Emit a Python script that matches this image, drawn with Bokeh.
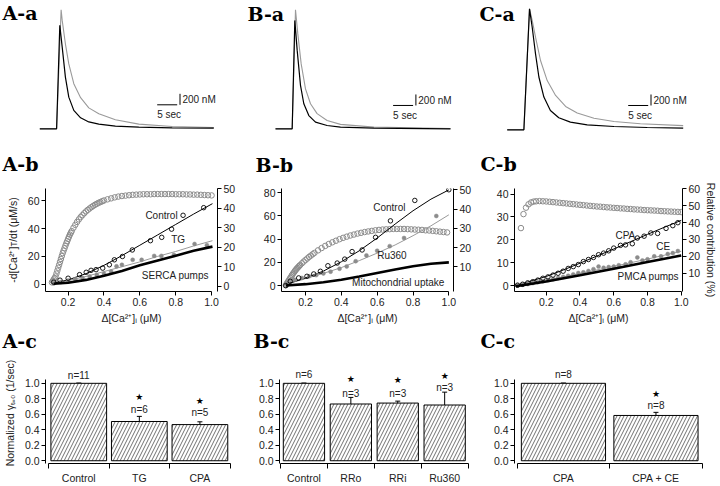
from bokeh.plotting import figure
from bokeh.layouts import column, row
from bokeh.models import (Range1d, LinearAxis, FixedTicker, Whisker, TeeHead,
                          ColumnDataSource, PrintfTickFormatter)
from bokeh.embed import file_html
from bokeh.resources import INLINE
from bokeh.core.properties import value

# ---------------- DATA ----------------
# Row a: [Ca2+]i transients, time (s) and concentration (nM)
aa_t_k = [0, 4.2, 5.0, 5.6, 6.4, 7.25, 8.5, 10.2, 12.25, 14.75, 18.9, 24.75, 33.1, 43.5]
aa_y_k = [0, 0, 1880, 1485, 940, 575, 335, 200, 125, 85, 50, 30, 18, 12]
aa_t_g = [0, 4.2, 5.33, 5.6, 6.4, 7.25, 8.5, 10.2, 12.25, 14.75, 18.9, 24.75, 33.1, 43.5]
aa_y_g = [0, 0, 2165, 1970, 1545, 1180, 820, 565, 380, 275, 165, 85, 42, 24]

ba_t_k = [0, 4.17, 4.83, 5.42, 6.25, 7.08, 8.33, 10.0, 12.9, 16.25, 24.6, 43.75]
ba_y_k = [0, 0, 1970, 1425, 790, 455, 240, 120, 60, 30, 12, 0]
ba_t_g = [0, 4.17, 5.0, 5.58, 6.42, 7.5, 8.75, 10.4, 12.9, 16.25, 24.6, 43.75]
ba_y_g = [0, 0, 2165, 1725, 1180, 725, 455, 275, 150, 80, 30, 6]

ca_t_k = [0, 4.17, 5.58, 6.25, 7.08, 7.92, 9.17, 10.8, 12.9, 15.8, 20.0, 26.7, 35.0, 44.0]
ca_y_k = [0, 0, 2200, 1865, 1380, 960, 595, 350, 220, 140, 90, 60, 42, 30]
ca_t_g = [0, 4.17, 5.58, 6.25, 7.08, 8.33, 10.0, 12.1, 14.6, 17.5, 21.7, 26.7, 33.3, 44.0]
ca_y_g = [0, 0, 2200, 1990, 1685, 1260, 895, 625, 425, 305, 210, 150, 110, 75]

SB_T = 5      # sec
SB_Y = 200    # nM

# Row b, panel A
ab_ctrl_x = [0.12, 0.155, 0.20, 0.264, 0.301, 0.328, 0.356, 0.393, 0.430, 0.458, 0.503, 0.558, 0.659, 0.722, 0.777, 0.841, 0.956]
ab_ctrl_y = [1.4, 2.8, 4.2, 6.8, 8.5, 9.9, 10.4, 11.5, 13.9, 17.5, 19.9, 24.6, 31.3, 33.7, 39.6, 49.6, 55.1]
ab_tg_x = [0.12, 0.16, 0.20, 0.24, 0.28, 0.32, 0.36, 0.40, 0.44, 0.47, 0.50, 0.56, 0.61, 0.68, 0.72, 0.79, 0.905, 0.974]
ab_tg_y = [0.5, 1.5, 2.5, 3.5, 4.5, 5.5, 6.5, 7.5, 9.0, 12.8, 13.9, 17.5, 17.5, 20.3, 20.3, 21.0, 28.9, 28.0]
ab_fit_x = [0.12, 0.2, 0.3, 0.4, 0.5, 0.6, 0.7, 0.8, 0.9, 1.005]
ab_ctrl_fit = [0.8, 3, 7.5, 13.5, 20.5, 28, 35.5, 43, 50.5, 58]
ab_tg_fit = [0.5, 2.5, 5.5, 9, 12.5, 16, 20, 23.5, 27.5, 31.3]
ab_serca = [0.2, 1.0, 3.0, 6.0, 9.5, 13.5, 17.0, 20.5, 24.0, 27.0]
ab_rel_x = [0.11, 0.115, 0.12, 0.125, 0.13, 0.135, 0.14, 0.145, 0.15, 0.155, 0.16, 0.165, 0.17, 0.175,
            0.18, 0.185, 0.19, 0.195, 0.20, 0.205, 0.21, 0.215, 0.22, 0.23, 0.24, 0.25, 0.26, 0.27,
            0.28, 0.29, 0.30, 0.31, 0.32, 0.33, 0.34, 0.35, 0.36, 0.37, 0.38, 0.39, 0.40,
            0.42, 0.44, 0.46, 0.48, 0.50, 0.52, 0.54, 0.56, 0.58, 0.60, 0.62, 0.64, 0.66, 0.68, 0.70,
            0.72, 0.74, 0.76, 0.78, 0.80, 0.82, 0.84, 0.86, 0.88, 0.90, 0.92, 0.94, 0.96, 0.98, 1.00]
ab_rel_y = [2.0, 2.7, 3.5, 4.2, 5.0, 6.5, 8.0, 9.5, 11.0, 12.5, 14.0, 15.5, 17.0, 18.3,
            19.5, 20.8, 22.0, 23.1, 24.3, 25.4, 26.5, 27.4, 28.3, 30.0, 31.5, 33.0, 34.3, 35.5,
            36.5, 37.5, 38.4, 39.2, 39.9, 40.6, 41.2, 41.8, 42.3, 42.8, 43.2, 43.6, 44.0,
            44.6, 45.1, 45.6, 46.0, 46.3, 46.5, 46.7, 46.9, 47.0, 47.1, 47.2, 47.2, 47.2, 47.3, 47.3,
            47.3, 47.3, 47.3, 47.3, 47.2, 47.2, 47.2, 47.1, 47.1, 47.0, 47.0, 46.9, 46.8, 46.7, 46.6]

# Row b, panel B
bb_ctrl_x = [0.09, 0.115, 0.162, 0.208, 0.246, 0.283, 0.325, 0.377, 0.419, 0.46, 0.516, 0.591, 0.674, 0.81, 1.0]
bb_ctrl_y = [0, 3.7, 6.6, 8.0, 10.0, 12.3, 17.1, 19.4, 22.8, 29.3, 30.7, 41.6, 55.8, 73.4, 82.6]
bb_ru_x = [0.10, 0.14, 0.18, 0.22, 0.26, 0.30, 0.34, 0.39, 0.43, 0.48, 0.54, 0.60, 0.67, 0.75, 0.93]
bb_ru_y = [2, 5, 6.5, 8, 9, 10.5, 12, 14.5, 16.5, 21, 26, 30, 34, 41, 60]
bb_ctrl_fit_x = [0.09, 0.15, 0.2, 0.3, 0.4, 0.5, 0.6, 0.7, 0.8, 0.9, 1.0]
bb_ctrl_fit_y = [1, 4, 6.5, 12.5, 20.5, 30, 41, 53, 64.5, 74.5, 82.5]
bb_fit_x = [0.09, 0.2, 0.3, 0.4, 0.5, 0.6, 0.7, 0.8, 0.9, 1.0]
bb_ru_fit = [1, 6, 10.5, 15.5, 21.5, 28, 35, 43, 51.5, 61]
bb_mito = [0, 1.2, 2.8, 5, 7.8, 10.8, 13.8, 16.6, 18.8, 20]
bb_rel_x = [0.09, 0.095, 0.10, 0.105, 0.11, 0.115, 0.12, 0.125, 0.13, 0.135, 0.14, 0.145, 0.15, 0.155,
            0.16, 0.165, 0.17, 0.18, 0.19, 0.20, 0.21, 0.22, 0.23, 0.24, 0.25,
            0.27, 0.29, 0.31, 0.33, 0.35, 0.37, 0.39, 0.41, 0.43, 0.45, 0.47, 0.49, 0.51, 0.53, 0.55,
            0.57, 0.59, 0.61, 0.63, 0.65, 0.67, 0.69, 0.71, 0.73, 0.75, 0.77, 0.79, 0.81, 0.83, 0.85,
            0.87, 0.89, 0.91, 0.93, 0.95, 0.97, 0.99]
bb_rel_y = [0.5, 1.3, 2.0, 2.8, 3.5, 4.3, 5.0, 5.8, 6.5, 7.1, 7.8, 8.4, 9.0, 9.5,
            10.0, 10.5, 11.0, 11.9, 12.8, 13.6, 14.4, 15.2, 15.9, 16.6, 17.3,
            18.6, 19.8, 20.9, 21.9, 22.8, 23.6, 24.4, 25.1, 25.7, 26.3, 26.8, 27.3, 27.7, 28.1, 28.4,
            28.7, 29.0, 29.2, 29.4, 29.5, 29.6, 29.7, 29.7, 29.7, 29.7, 29.6, 29.5, 29.4, 29.3, 29.2,
            29.0, 28.9, 28.7, 28.5, 28.3, 28.1, 27.9]

# Row b, panel C
cb_cpa_x = [0.03, 0.06, 0.09, 0.12, 0.15, 0.18, 0.21, 0.24, 0.27, 0.30, 0.33, 0.36, 0.39, 0.42, 0.45,
            0.48, 0.51, 0.54, 0.57, 0.60, 0.64, 0.67, 0.71, 0.74, 0.78, 0.82, 0.86, 0.91, 0.95, 0.98]
cb_cpa_y = [0.2, 0.6, 1.2, 1.7, 2.4, 3.2, 3.8, 4.6, 5.4, 6.3, 7.5, 8.3, 9.2, 10.5, 11.4,
            12.3, 13.5, 14.2, 15.2, 16.4, 17.6, 17.8, 18.3, 20.8, 21.6, 23.0, 22.8, 25.0, 26.2, 27.5]
cb_ce_x = [0.03, 0.06, 0.09, 0.12, 0.15, 0.18, 0.21, 0.24, 0.27, 0.30, 0.33, 0.36, 0.39, 0.42, 0.45,
           0.48, 0.51, 0.54, 0.57, 0.60, 0.63, 0.67, 0.70, 0.74, 0.77, 0.80, 0.84, 0.88, 0.92, 0.95, 0.98]
cb_ce_y = [0.1, 0.4, 0.7, 1.1, 1.5, 1.9, 2.4, 2.8, 3.3, 3.8, 4.3, 4.9, 5.5, 5.8, 6.4,
           7.2, 8.3, 7.8, 8.1, 8.3, 8.9, 9.3, 10.2, 12.3, 11.0, 11.5, 12.8, 12.8, 13.8, 14.2, 15.1]
cb_cpa_fit_x = [0.02, 0.1, 0.2, 0.3, 0.4, 0.5, 0.6, 0.7, 0.8, 0.9, 1.0]
cb_cpa_fit_y = [0, 1.8, 4, 6.8, 9.8, 12.9, 16, 19.2, 22.4, 25.5, 28.5]
cb_fit_x = [0.02, 0.2, 0.4, 0.6, 0.8, 1.0]
cb_ce_fit = [0, 2.3, 5.3, 8.4, 11.6, 15.0]
cb_pmca = [-0.3, 1.8, 4.5, 7.4, 10.3, 13.2]
cb_rel_x = [0.05, 0.065, 0.08, 0.095, 0.11, 0.125, 0.14, 0.16, 0.18, 0.20, 0.22, 0.24, 0.26, 0.28, 0.30,
            0.32, 0.34, 0.36, 0.38, 0.40, 0.42, 0.44, 0.46, 0.48, 0.50, 0.52, 0.54, 0.56, 0.58, 0.60,
            0.62, 0.64, 0.66, 0.68, 0.70, 0.72, 0.74, 0.76, 0.78, 0.80, 0.82, 0.84, 0.86, 0.88, 0.90,
            0.92, 0.94, 0.96, 0.98, 1.00]
cb_rel_y = [36.7, 45, 48.8, 50.8, 51.9, 52.4, 52.6, 52.7, 52.6, 52.5, 52.3, 52.1, 51.9, 51.7, 51.5,
            51.3, 51.1, 50.9, 50.7, 50.5, 50.3, 50.1, 49.9, 49.7, 49.5, 49.4, 49.2, 49.0, 48.9, 48.7,
            48.6, 48.4, 48.3, 48.1, 48.0, 47.8, 47.7, 47.6, 47.4, 47.3, 47.2, 47.1, 47.0, 46.8, 46.7,
            46.6, 46.5, 46.4, 46.3, 46.2]

# Row c: normalized rate constants
ac_cats = ["Control", "TG", "CPA"]
ac_vals = [1.0, 0.507, 0.467]
ac_errs = [0.004, 0.066, 0.036]
ac_n = ["n=11", "n=6", "n=5"]
ac_sig = [False, True, True]

bc_cats = ["Control", "RRo", "RRi", "Ru360"]
bc_vals = [1.0, 0.733, 0.745, 0.72]
bc_errs = [0.004, 0.085, 0.025, 0.166]
bc_n = ["n=6", "n=3", "n=3", "n=3"]
bc_sig = [False, True, True, True]

cc_cats = ["CPA", "CPA + CE"]
cc_vals = [1.0, 0.585]
cc_errs = [0.004, 0.04]
cc_n = ["n=8", "n=8"]
cc_sig = [False, True]

# ---------------- STYLE ----------------
SANS = "Liberation Sans"
SERIF = "DejaVu Serif"
TXT = "#222222"
GRAY = "#8c8c8c"
LGRAY = "#9a9a9a"
W = [238, 240, 242]          # column widths


def base_fig(w, h, xr, yr, ml, mr, mt, mb, axes=True):
    kw = dict(width=w, height=h, x_range=Range1d(*xr), y_range=Range1d(*yr),
              output_backend="svg", toolbar_location=None, tools="",
              min_border_left=ml, min_border_right=mr, min_border_top=mt, min_border_bottom=mb)
    if not axes:
        kw.update(x_axis_location=None, y_axis_location=None)
    p = figure(**kw)
    p.outline_line_color = None
    p.xgrid.visible = False
    p.ygrid.visible = False
    p.background_fill_color = "white"
    p.border_fill_color = "white"
    return p


def style_axis(ax, size="10.5px"):
    ax.axis_line_color = "black"
    ax.axis_line_width = 1
    ax.major_tick_line_color = "black"
    ax.major_tick_in = 0
    ax.major_tick_out = 4
    ax.minor_tick_line_color = None
    ax.major_label_text_font = SANS
    ax.major_label_text_font_size = size
    ax.major_label_text_color = TXT
    ax.major_label_standoff = 2
    ax.axis_label_text_font = SANS
    ax.axis_label_text_font_size = "10.5px"
    ax.axis_label_text_font_style = "normal"
    ax.axis_label_text_color = TXT
    ax.axis_label_standoff = 3


def panel_label(p, w, h, xr, yr, text, px, py_mid):
    """Panel letter placed at pixel (px, py_mid) of a frame-only figure (from its top-left)."""
    x = xr[0] + px * (xr[1] - xr[0]) / w
    y = yr[1] - py_mid * (yr[1] - yr[0]) / h
    p.text(x=[x], y=[y], text=[text], text_font=value(SERIF), text_font_size="19px",
           text_font_style="bold", text_color="black", text_align="left", text_baseline="middle")


def note(p, x, y, t, size="10px", align="left"):
    p.text(x=[x], y=[y], text=[t], text_font=value(SANS), text_font_size=size,
           text_color=TXT, text_align=align, text_baseline="middle")


# ---------------- ROW a (also carries the row-b panel letters) ----------------
A_H = 175


def trace_panel(w, xr, yr, tg, yg, tk, yk, sb_t, sb_y, lab, lab2, lab_x, lab_mid, lab2_x, lab2_mid):
    p = base_fig(w, A_H, xr, yr, 0, 0, 0, 0, axes=False)
    p.line(tg, yg, line_color=LGRAY, line_width=1.1)
    p.line(tk, yk, line_color="black", line_width=1.2)
    vx = sb_t + SB_T + 0.7
    p.line([sb_t, sb_t + SB_T], [sb_y, sb_y], line_color="black", line_width=1)
    p.line([vx, vx], [sb_y, sb_y + SB_Y], line_color="black", line_width=1)
    note(p, vx + 0.6, sb_y + SB_Y * 0.45, f"{SB_Y} nM")
    note(p, sb_t, sb_y - 180, f"{SB_T} sec")
    panel_label(p, w, A_H, xr, yr, lab, lab_x, lab_mid)
    panel_label(p, w, A_H, xr, yr, lab2, lab2_x, lab2_mid)
    return p


pa1 = trace_panel(W[0], (-9.825, 49.675), (-849, 2332), aa_t_g, aa_y_g, aa_t_k, aa_y_k,
                  29.35, 436, "A-a", "A-b", 2, 12.5, 2, 163.5)
pa2 = trace_panel(W[1], (-9.25, 50.75), (-849, 2332), ba_t_g, ba_y_g, ba_t_k, ba_y_k,
                  29.4, 424, "B-a", "B-b", 9, 13.5, 17, 164)
pa3 = trace_panel(W[2], (-7.175, 53.325), (-831, 2351), ca_t_g, ca_y_g, ca_t_k, ca_y_k,
                  30.25, 442, "C-a", "C-b", 1, 13.5, 2, 163.5)

# ---------------- ROW b ----------------
XLAB = "Δ[Ca²⁺]ᵢ (μM)"
B_H = 151


def rate_fig(w, xr, yr, rr, ml, mr, mt, lticks, rticks, ylabel=None, rlabel=None):
    p = base_fig(w, B_H, xr, yr, ml, mr, mt, 34)
    p.extra_y_ranges = {"r": Range1d(*rr)}
    xa = p.xaxis[0]
    style_axis(xa)
    xa.ticker = FixedTicker(ticks=[0.2, 0.4, 0.6, 0.8, 1.0])
    xa.formatter = PrintfTickFormatter(format="%.1f")
    xa.axis_label = XLAB
    xa.bounds = (xr[0], 1.0)
    ya = p.yaxis[0]
    style_axis(ya)
    ya.ticker = FixedTicker(ticks=lticks)
    if ylabel:
        ya.axis_label = ylabel
    ra = LinearAxis(y_range_name="r", ticker=FixedTicker(ticks=rticks))
    style_axis(ra)
    if rlabel:
        ra.axis_label = rlabel
        ra.axis_label_standoff = 2
    p.add_layout(ra, "right")
    return p


def rel_circles(p, x, y):
    p.scatter(x, y, y_range_name="r", marker="circle", size=5.5, fill_color=None,
              line_color=GRAY, line_width=1)


def open_pts(p, x, y):
    p.scatter(x, y, marker="circle", size=4.5, fill_color=None, line_color="black", line_width=0.9)


def gray_pts(p, x, y):
    p.scatter(x, y, marker="circle", size=4, fill_color=GRAY, line_color=GRAY, line_width=0.5)


pb1 = rate_fig(W[0], (0.074, 1.033), (-5.36, 68.93), (-2.69, 50.15), 45, 18, 13,
               [0, 20, 40, 60], [0, 10, 20, 30, 40, 50], ylabel="-d[Ca²⁺]ᴛ/dt (μM/s)")
pb1.yaxis[0].axis_label_standoff = 6
rel_circles(pb1, ab_rel_x, ab_rel_y)
pb1.line(ab_fit_x, ab_tg_fit, line_color=LGRAY, line_width=1)
pb1.line(ab_fit_x, ab_ctrl_fit, line_color="black", line_width=1)
gray_pts(pb1, ab_tg_x, ab_tg_y)
open_pts(pb1, ab_ctrl_x, ab_ctrl_y)
pb1.line(ab_fit_x, ab_serca, line_color="black", line_width=2.6)
note(pb1, 0.631, 49.6, "Control")
note(pb1, 0.775, 31.8, "TG")
note(pb1, 0.611, 6.1, "SERCA pumps")

pb2 = rate_fig(W[1], (0.0661, 1.0259), (-5.12, 83.69), (-2.72, 50.67), 43, 25, 13,
               [0, 20, 40, 60, 80], [10, 20, 30, 40, 50])
rel_circles(pb2, bb_rel_x, bb_rel_y)
pb2.line(bb_fit_x, bb_ru_fit, line_color=LGRAY, line_width=1)
pb2.line(bb_ctrl_fit_x, bb_ctrl_fit_y, line_color="black", line_width=1)
gray_pts(pb2, bb_ru_x, bb_ru_y)
open_pts(pb2, bb_ctrl_x, bb_ctrl_y)
pb2.line(bb_fit_x, bb_mito, line_color="black", line_width=2.6)
note(pb2, 0.578, 67.7, "Control")
note(pb2, 0.60, 25.6, "Ru360")
note(pb2, 0.46, 2.3, "Mitochondrial uptake")

pb3 = rate_fig(W[2], (0.0118, 1.0075), (-2.57, 42.43), (-0.87, 60.17), 36, 33, 12,
               [0, 10, 20, 30, 40], [10, 20, 30, 40, 50, 60], rlabel="Relative contribution (%)")
rel_circles(pb3, cb_rel_x, cb_rel_y)
pb3.line(cb_fit_x, cb_ce_fit, line_color=LGRAY, line_width=1)
pb3.line(cb_cpa_fit_x, cb_cpa_fit_y, line_color="black", line_width=1)
gray_pts(pb3, cb_ce_x, cb_ce_y)
open_pts(pb3, cb_cpa_x, cb_cpa_y)
pb3.line(cb_fit_x, cb_pmca, line_color="black", line_width=2.6)
note(pb3, 0.61, 21.9, "CPA")
note(pb3, 0.852, 17.1, "CE")
note(pb3, 0.622, 4.0, "PMCA pumps")

# ---------------- strip with row-c panel letters ----------------
S_H = 26


def strip(w, lab, lab_x):
    p = base_fig(w, S_H, (0, 1), (0, 1), 0, 0, 0, 0, axes=False)
    panel_label(p, w, S_H, (0, 1), (0, 1), lab, lab_x, 14)
    return p


sc1 = strip(W[0], "A-c", 2)
sc2 = strip(W[1], "B-c", 15)
sc3 = strip(W[2], "C-c", 2)

# ---------------- ROW c ----------------
C_H = 134
C_YR = (-0.0356, 1.269)


def bar_panel(w, xr, ml, mr, cats, vals, errs, ns, sig, n_y, star_y, bw, ylabel=None):
    p = base_fig(w, C_H, xr, C_YR, ml, mr, 10, 14)
    xs = [i + 0.5 for i in range(len(cats))]
    p.vbar(x=xs, top=vals, bottom=0, width=bw, fill_color="white", line_color="black",
           line_width=1, hatch_pattern="/", hatch_color="#333333", hatch_scale=7, hatch_weight=0.7)
    src = ColumnDataSource(dict(x=xs, lo=vals, up=[v + e for v, e in zip(vals, errs)]))
    p.add_layout(Whisker(source=src, base="x", lower="lo", upper="up", dimension="height",
                         line_color="black", line_width=1, lower_head=None,
                         upper_head=TeeHead(size=5, line_color="black", line_width=1)))
    p.text(x=xs, y=n_y, text=ns, text_font=value(SANS), text_font_size="10px",
           text_color=TXT, text_align="center", text_baseline="middle")
    sx = [x for x, s in zip(xs, sig) if s]
    sy = [y for y, s in zip(star_y, sig) if s]
    p.text(x=sx, y=sy, text=["★"] * len(sx), text_font=value("DejaVu Sans"), text_font_size="9px",
           text_color="black", text_align="center", text_baseline="middle")
    xa = p.xaxis[0]
    style_axis(xa)
    overrides = {}
    for x, c in zip(xs, cats):
        overrides[x] = c
        overrides[str(x)] = c
    xa.ticker = FixedTicker(ticks=xs, minor_ticks=list(range(len(cats) + 1)))
    xa.major_label_overrides = overrides
    xa.bounds = (0, len(cats))
    xa.major_tick_out = 0
    xa.minor_tick_line_color = "black"
    xa.minor_tick_in = 0
    xa.minor_tick_out = 5
    xa.major_label_standoff = 3
    ya = p.yaxis[0]
    style_axis(ya)
    ya.bounds = (C_YR[0], 1.045)
    ya.ticker = FixedTicker(ticks=[0, 0.2, 0.4, 0.6, 0.8, 1.0])
    ya.formatter = PrintfTickFormatter(format="%.1f")
    if ylabel:
        ya.axis_label = ylabel
        ya.axis_label_standoff = 6
    return p


pc1 = bar_panel(W[0], (-0.049, 3.005), 44, 8, ac_cats, ac_vals, ac_errs, ac_n, ac_sig,
                [1.10, 0.656, 0.617], [0, 0.822, 0.771], 0.92,
                ylabel="Normalized γₜ₌₀ (1/sec)")
pc2 = bar_panel(W[1], (-0.021, 4.008), 41, 10, bc_cats, bc_vals, bc_errs, bc_n, bc_sig,
                [1.11, 0.875, 0.875, 0.941], [0, 1.06, 1.04, 1.098], 0.88)
pc3 = bar_panel(W[2], (-0.029, 2.003), 36, 18, cc_cats, cc_vals, cc_errs, cc_n, cc_sig,
                [1.11, 0.715], [0, 0.866], 0.91)

layout = column(row(pa1, pa2, pa3), row(pb1, pb2, pb3), row(sc1, sc2, sc3), row(pc1, pc2, pc3))
open("out.html", "w").write(file_html(layout, INLINE))
